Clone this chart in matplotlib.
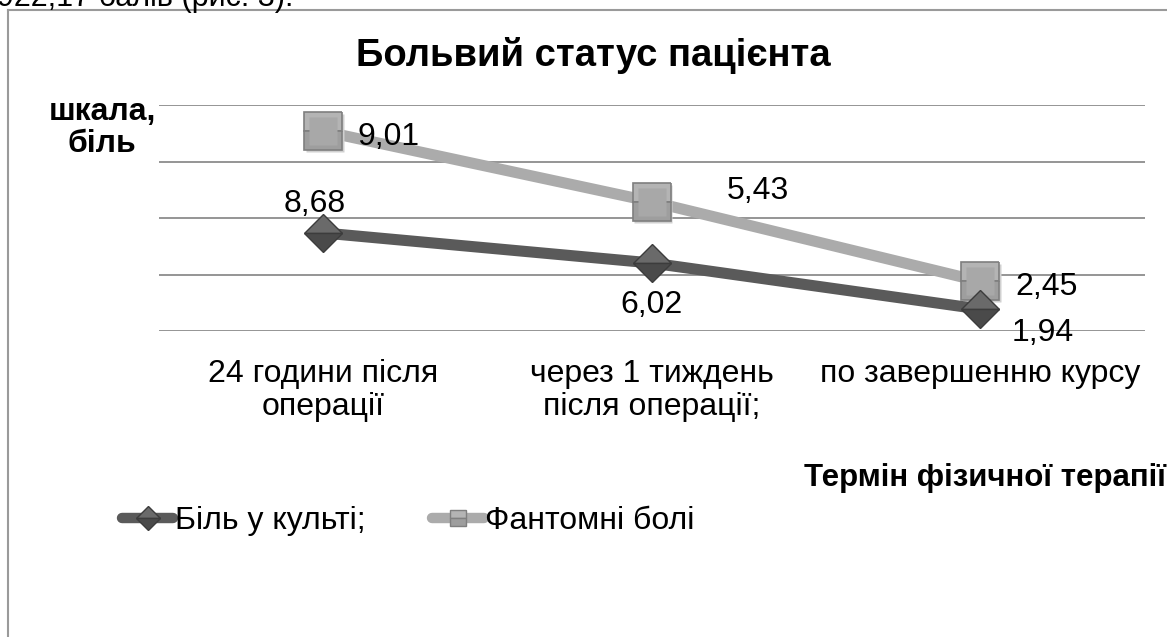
import matplotlib.pyplot as plt
from matplotlib.lines import Line2D

plt.rcParams['font.family'] = ['Liberation Sans', 'DejaVu Sans']

# data
categories = ["24 години після\nоперації", "через 1 тиждень\nпісля операції;", "по завершенню курсу"]
stump_pain = [8.68, 6.02, 1.94]     # Біль у культі;
phantom_pain = [9.01, 5.43, 2.45]   # Фантомні болі (stacked on top)
series_names = ["Біль у культі;", "Фантомні болі"]
y_ticks = [0, 5, 10, 15, 20]

W, H = 1167, 637
fig = plt.figure(figsize=(W / 100, H / 100), dpi=100)
fig.patch.set_facecolor("white")

def px(x, y):
    return x / W, 1 - y / H

# outer frame of the embedded chart
fig.add_artist(Line2D([8 / W, 8 / W], [0, 1 - 10 / H], color="#9a9a9a", lw=1.5))
fig.add_artist(Line2D([8 / W, 1], [1 - 10 / H, 1 - 10 / H], color="#9a9a9a", lw=1.5))

# cut-off line of the document text above
fig.text(-3 / W, 1 - 6 / H, "922,17 балів (рис. 3).", fontsize=22, ha="left", va="baseline")

ax = fig.add_axes([158.5 / W, 306 / H, 986 / W, 226 / H])
ax.set_xlim(-0.5, 2.5)
ax.set_ylim(0, 20)
for s in ax.spines.values():
    s.set_visible(False)
ax.set_xticks([])
ax.set_yticks([])
for t in y_ticks:
    ax.axhline(t, color="#8c8c8c", lw=1.3, zorder=1)

x = list(range(len(categories)))
top = [a + b for a, b in zip(stump_pain, phantom_pain)]

dark, dark_edge = "#5a5a5a", "#3c3c3c"
light, light_edge = "#ababab", "#7f7f7f"

ax.plot(x, top, color=light, lw=8.0, zorder=2, solid_capstyle="butt")
ax.plot([i + 0.006 for i in x], [v - 0.18 for v in top], ls="none", marker="s", ms=27,
        mfc="#d0d0d0", mec="none", zorder=3)
ax.plot(x, top, ls="none", marker="s", ms=27, fillstyle="top", mfc="#b4b4b4",
        markerfacecoloralt="#9e9e9e", mec=light_edge, mew=1.2, zorder=4)
ax.plot(x, top, ls="none", marker="s", ms=20, mfc="#a8a8a8", mec="none", zorder=4.5)
ax.plot(x, stump_pain, color=dark, lw=8.0, zorder=3, solid_capstyle="butt")
ax.plot(x, stump_pain, ls="none", marker="D", ms=19, fillstyle="top", mfc="#6a6a6a",
        markerfacecoloralt="#4a4a4a", mec=dark_edge, mew=1.0, zorder=5)

def fmt(v):
    return f"{v:.2f}".replace(".", ",")

lab_fs = 23
# data labels (offsets in points)
offs_top = [(25, -4, "left"), (54, 8, "left"), (25, -4, "left")]
offs_bot = [(-6, 21, "center"), (0, -30, "center"), (23, -17, "left")]
for i in x:
    dx, dy, ha = offs_top[i]
    ax.annotate(fmt(phantom_pain[i]), (i, top[i]), xytext=(dx, dy), textcoords="offset points",
                ha=ha, va="center", fontsize=lab_fs, zorder=6)
    dx, dy, ha = offs_bot[i]
    ax.annotate(fmt(stump_pain[i]), (i, stump_pain[i]), xytext=(dx, dy), textcoords="offset points",
                ha=ha, va="center", fontsize=lab_fs, zorder=6)

# category labels
for i, c in enumerate(categories):
    ax.annotate(c, (i, 0), xytext=(0, -20), textcoords="offset points", ha="center", va="top",
                fontsize=lab_fs, linespacing=1.15)

# title and axis titles
fig.text(*px(593, 55), "Больвий статус пацієнта", fontsize=27.5, fontweight="bold", ha="center", va="center")
fig.text(*px(102, 128), "шкала,\nбіль", fontsize=23, fontweight="bold", ha="center", va="center", linespacing=1.1)
fig.text(*px(1166, 478), "Термін фізичної терапії", fontsize=22.5, fontweight="bold", ha="right", va="center")

# legend
h1 = Line2D([], [], color=dark, lw=7.5, marker="D", ms=12, fillstyle="top", mfc="#6a6a6a",
            markerfacecoloralt="#4a4a4a", mec=dark_edge, solid_capstyle="round")
h2 = Line2D([], [], color=light, lw=7.5, marker="s", ms=12, fillstyle="top", mfc="#b4b4b4",
            markerfacecoloralt="#9e9e9e", mec=light_edge, solid_capstyle="round")
fig.legend([h1, h2], series_names, loc="center left", bbox_to_anchor=px(122, 521), frameon=False,
           ncol=2, fontsize=23, handlelength=1.6, handletextpad=0.05, columnspacing=2.1,
           borderaxespad=0, borderpad=0)

fig.savefig("out.png", dpi=100, facecolor="white")
